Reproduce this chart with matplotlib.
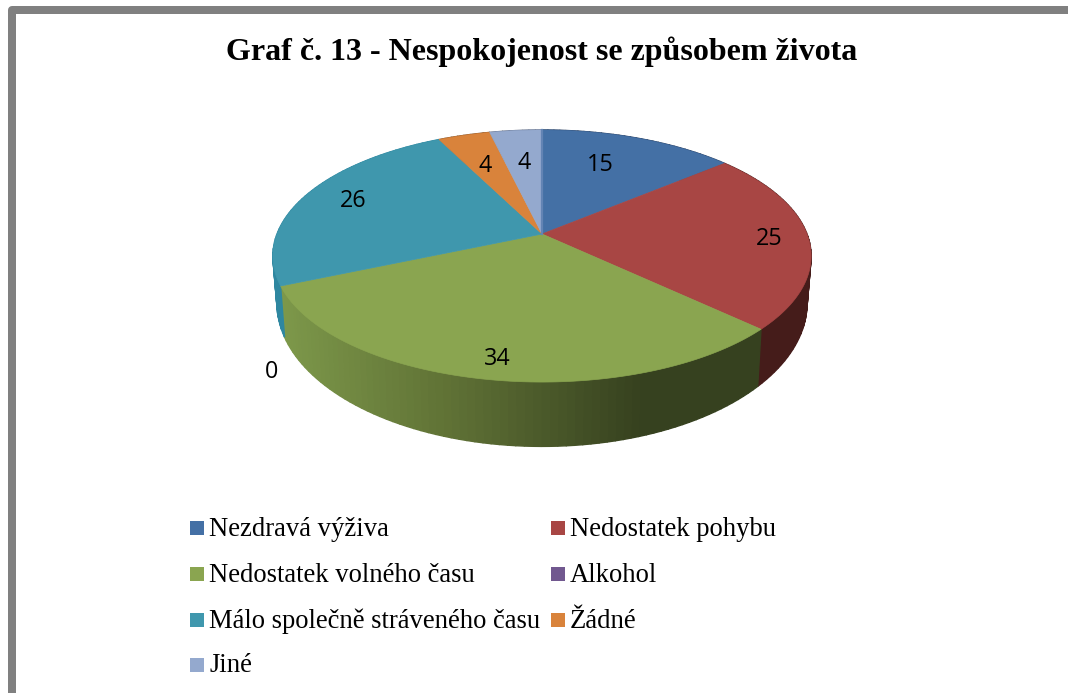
import numpy as np
import matplotlib
matplotlib.use("Agg")
import matplotlib.pyplot as plt
from matplotlib.patches import Rectangle

title = "Graf č. 13 - Nespokojenost se způsobem života"
categories = ["Nezdravá výživa", "Nedostatek pohybu", "Nedostatek volného času",
              "Alkohol", "Málo společně stráveného času", "Žádné", "Jiné"]
values = [15, 25, 34, 0, 26, 4, 4]
colors = ["#4470a5", "#a84644", "#8aa550", "#71588f", "#3f97ad", "#d9833b", "#94a9ce"]
side_colors = ["#24395a", "#451c1a", None, "#3a2c4c", "#2e87a0", "#7c4a20", "#55617a"]
label_pos = [(600, 165), (769, 239), (497, 359), (272, 372), (353, 201), (485, 166), (524, 163)]
legend_pos = [(190, 528), (551, 528), (190, 574), (551, 574), (190, 620), (551, 620), (190, 665)]

W, H = 1068, 693
K = 0.1746
CX = 542

def project(t, a, b, y0):
    """Perspective view of a point on a circle; t runs clockwise from 12 o'clock."""
    s, c = np.sin(t), np.cos(t)
    d = 1 + K * c
    return CX + a * s / d, y0 - b * c / d

def top(t):
    return project(t, 265.0, 122.2, 234.0)

def bottom(t):
    return project(t, 261.0, 139.0, 278.0)

def green_side(x):
    xs = [280, 450, 640, 800]
    rgb = np.array([[0x7d, 0x98, 0x4a], [0x5f, 0x71, 0x35], [0x36, 0x41, 0x1f], [0x36, 0x41, 0x1f]])
    return tuple(np.interp(x, xs, rgb[:, i]) / 255 for i in range(3))

fig = plt.figure(figsize=(W / 100, H / 100), dpi=100, facecolor="white")
ax = fig.add_axes([0, 0, 1, 1])
ax.set_xlim(0, W)
ax.set_ylim(H, 0)
ax.axis("off")

# outer frame, only its top and left edges are in view
ax.plot([12, 12, W + 20], [H + 20, 10, 10], color="#808080", lw=8 * 0.72,
        solid_joinstyle="round", solid_capstyle="butt", zorder=1)

fracs = np.array(values, dtype=float) / sum(values)
edges = np.concatenate([[0], np.cumsum(fracs)]) * 2 * np.pi

# side wall
for i in range(len(values)):
    if values[i] == 0:
        continue
    n = max(2, int((edges[i + 1] - edges[i]) / np.radians(1.5)))
    ts = np.linspace(edges[i], edges[i + 1], n + 1)
    for t0, t1 in zip(ts[:-1], ts[1:]):
        x0, y0 = top(t0); x1, y1 = top(t1)
        x2, y2 = bottom(t1); x3, y3 = bottom(t0)
        col = side_colors[i] if side_colors[i] else green_side((x0 + x1) / 2)
        ax.fill([x0, x1, x2, x3], [y0, y1, y2, y3], color=col, lw=1.0, zorder=2)

# top face
for i in range(len(values)):
    if values[i] == 0:
        continue
    ts = np.linspace(edges[i], edges[i + 1], 120)
    x, y = top(ts)
    ax.fill(np.r_[CX, x], np.r_[234.0, y], color=colors[i], lw=0.5, zorder=3)

# thin seam at 12 o'clock
xt, yt = top(0.0)
ax.plot([CX, xt], [234, yt], color="#6384b4", lw=1.6, zorder=4)

# data labels
for v, (x, y) in zip(values, label_pos):
    ax.text(x, y, str(v), ha="center", va="center", fontsize=16.8,
            family="Open Sans", color="black", zorder=5)

ax.text(542, 52, title, ha="center", va="center", fontsize=23,
        family="Liberation Serif", weight="bold", color="black", zorder=5)

# legend
for name, col, (x, y) in zip(categories, colors, legend_pos):
    ax.add_patch(Rectangle((x, y - 7), 14, 14, facecolor=col, edgecolor="none", zorder=5))
    ax.text(x + 19, y + 1, name, ha="left", va="center", fontsize=19.2,
            family="Liberation Serif", color="black", zorder=5)

fig.savefig("out.png", dpi=100, facecolor="white")
